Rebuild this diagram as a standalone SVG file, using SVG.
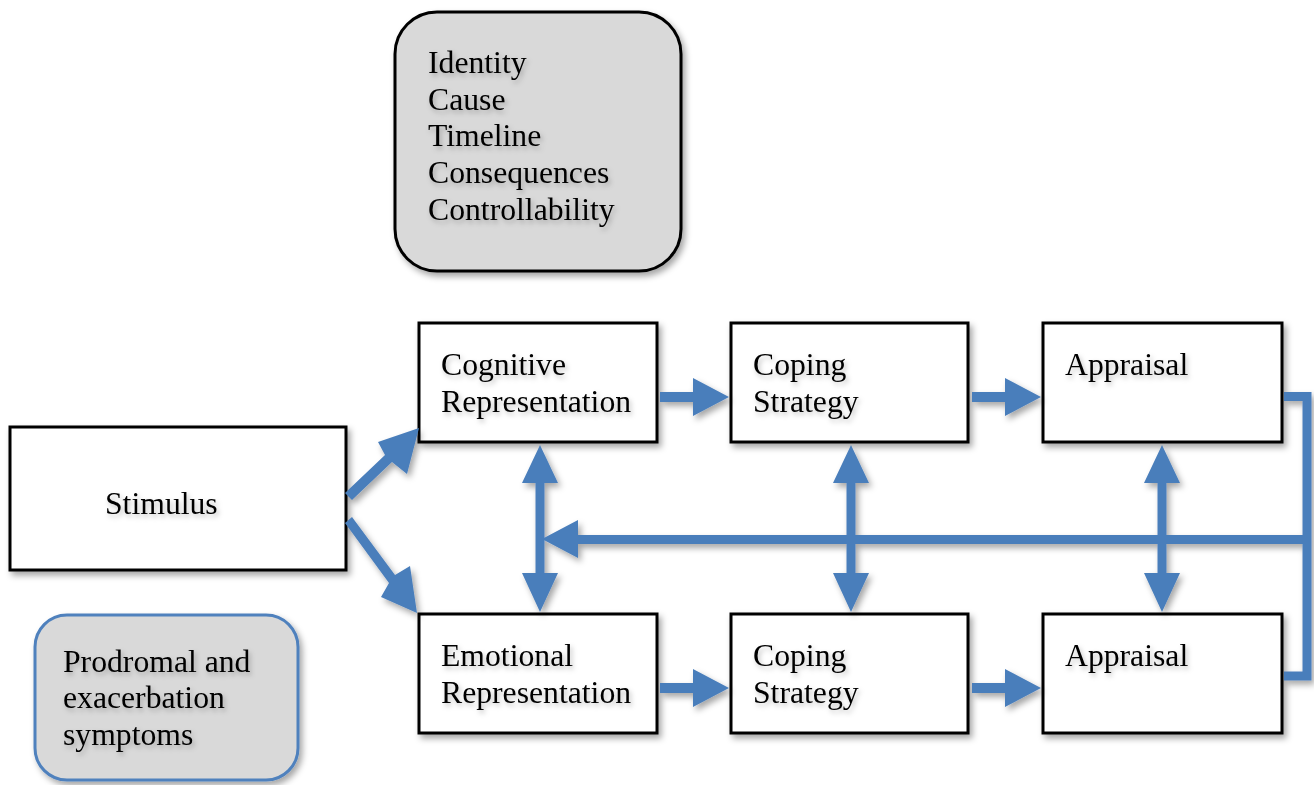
<svg xmlns="http://www.w3.org/2000/svg" width="1314" height="785" viewBox="0 0 1314 785">
<defs>
<filter id="sh" x="-10%" y="-10%" width="130%" height="130%">
<feDropShadow dx="3" dy="4" stdDeviation="3" flood-color="#000" flood-opacity="0.35"/>
</filter>
<filter id="tsh" x="-10%" y="-30%" width="130%" height="170%">
<feDropShadow dx="2" dy="3" stdDeviation="2.5" flood-color="#000" flood-opacity="0.25"/>
</filter>
</defs>
<style>
.box{fill:#fff;stroke:#000;stroke-width:3}
.gray{fill:#d9d9d9;stroke:#000;stroke-width:3}
.bgray{fill:#d9d9d9;stroke:#4f81bd;stroke-width:3}
.t{font-family:"Liberation Serif","Times New Roman",serif;font-size:31.7px;fill:#000}
.ar{fill:#4a7ebb}
.ln{fill:none;stroke:#4a7ebb;stroke-width:9}
</style>
<rect width="1314" height="785" fill="#fff"/>

<g id="attributes" filter="url(#sh)">
<rect class="gray" x="395" y="12" width="286" height="259" rx="42"/>
<g class="t" filter="url(#tsh)">
<text x="428" y="73">Identity</text>
<text x="428" y="110">Cause</text>
<text x="428" y="146">Timeline</text>
<text x="428" y="183">Consequences</text>
<text x="428" y="220">Controllability</text>
</g>
</g>

<g id="stimulus" filter="url(#sh)">
<rect class="box" x="10" y="427" width="336" height="143"/>
<text class="t" x="105" y="514" filter="url(#tsh)">Stimulus</text>
</g>

<g id="cognitive" filter="url(#sh)">
<rect class="box" x="419" y="323" width="238" height="119"/>
<g class="t" filter="url(#tsh)"><text x="441" y="375">Cognitive</text><text x="441" y="412">Representation</text></g>
</g>
<g id="coping1" filter="url(#sh)">
<rect class="box" x="731" y="323" width="237" height="119"/>
<g class="t" filter="url(#tsh)"><text x="753" y="375">Coping</text><text x="753" y="412">Strategy</text></g>
</g>
<g id="appraisal1" filter="url(#sh)">
<rect class="box" x="1043" y="323" width="239" height="119"/>
<g class="t" filter="url(#tsh)"><text x="1065" y="375">Appraisal</text></g>
</g>

<g id="emotional" filter="url(#sh)">
<rect class="box" x="419" y="614" width="238" height="119"/>
<g class="t" filter="url(#tsh)"><text x="441" y="666">Emotional</text><text x="441" y="703">Representation</text></g>
</g>
<g id="coping2" filter="url(#sh)">
<rect class="box" x="731" y="614" width="237" height="119"/>
<g class="t" filter="url(#tsh)"><text x="753" y="666">Coping</text><text x="753" y="703">Strategy</text></g>
</g>
<g id="appraisal2" filter="url(#sh)">
<rect class="box" x="1043" y="614" width="239" height="119"/>
<g class="t" filter="url(#tsh)"><text x="1065" y="666">Appraisal</text></g>
</g>

<g id="symptoms" filter="url(#sh)">
<rect class="bgray" x="35" y="615" width="263" height="165" rx="32"/>
<g class="t" filter="url(#tsh)">
<text x="63" y="672">Prodromal and</text>
<text x="63" y="708">exacerbation</text>
<text x="63" y="745">symptoms</text>
</g>
</g>

<g id="connectors" filter="url(#sh)">
<polygon class="ar" points="345,493 352,500 392,462 407,474 419,428 378,442 385,455"/>
<polygon class="ar" points="345,523 352,517 395,575 410,566 417,613 381,597 389,583"/>
<polygon class="ar" points="660,392 693,392 693,378 729,397 693,416 693,402 660,402"/>
<polygon class="ar" points="972,392 1005,392 1005,378 1041,397 1005,416 1005,402 972,402"/>
<polygon class="ar" points="660,683 693,683 693,669 729,688 693,707 693,693 660,693"/>
<polygon class="ar" points="972,683 1005,683 1005,669 1041,688 1005,707 1005,693 972,693"/>
<polygon class="ar" points="540,445 558,483 544.5,483 544.5,573 558,573 540,612 522,573 535.5,573 535.5,483 522,483"/>
<polygon class="ar" points="851,445 869,483 855.5,483 855.5,573 869,573 851,612 833,573 846.5,573 846.5,483 833,483"/>
<polygon class="ar" points="1162,445 1180,483 1166.5,483 1166.5,573 1180,573 1162,612 1144,573 1157.5,573 1157.5,483 1144,483"/>
<polyline class="ln" points="1284,396.5 1307,396.5 1307,676 1284,676"/>
<polygon class="ar" points="1311,535 578,535 578,520 542,539 578,558 578,544 1311,544"/>
</g>
</svg>
